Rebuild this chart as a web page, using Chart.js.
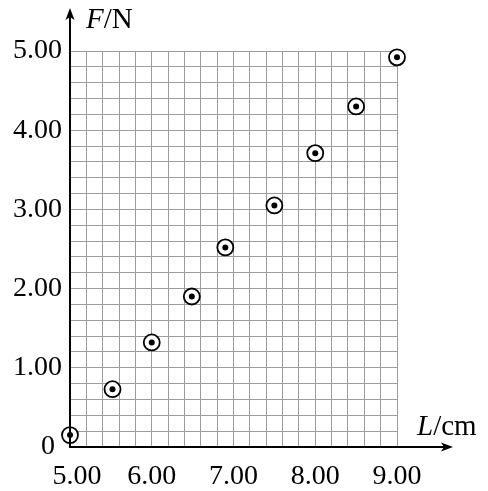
<!DOCTYPE html>
<html>
<head>
<meta charset="utf-8">
<script src="https://cdn.jsdelivr.net/npm/chart.js@4/dist/chart.umd.min.js"></script>
<style>
  html, body { margin: 0; padding: 0; background: #fff; }
  #wrap { width: 488px; height: 491px; }
</style>
</head>
<body>
<div id="wrap"><canvas id="chart" width="488" height="491"></canvas></div>
<script>
// measured points: spring length L (cm) vs force F (N)
const lengths = [5.00, 5.52, 6.00, 6.49, 6.90, 7.50, 8.00, 8.50, 9.00];
const forces = [0.15, 0.73, 1.32, 1.90, 2.52, 3.05, 3.71, 4.30, 4.92];

// tick labels (only whole units are labelled, grid every 0.2)
const xTickValues = [5, 6, 7, 8, 9];
const xTickLabels = ['  5.00', '6.00', '7.00', '8.00', '9.00'];
const yTickValues = [0, 1, 2, 3, 4, 5];
const yTickLabels = ['0 ', '1.00', '2.00', '3.00', '4.00', '5.00'];

const serif = '"Liberation Serif", "Times New Roman", serif';

function labelFor(values, labels) {
  return function(value) {
    const i = values.findIndex(v => Math.abs(v - value) < 1e-6);
    return i >= 0 ? labels[i] : '';
  };
}

// black axis lines with arrow heads + axis titles
const axisArrows = {
  id: 'axisArrows',
  afterDatasetsDraw(chart) {
    const { ctx, chartArea: a } = chart;
    ctx.save();
    ctx.strokeStyle = '#000';
    ctx.fillStyle = '#000';
    ctx.lineWidth = 2;

    // x axis
    const xTip = a.right + 56;
    ctx.beginPath();
    ctx.moveTo(a.left - 1, a.bottom);
    ctx.lineTo(xTip - 6, a.bottom);
    ctx.stroke();
    ctx.beginPath();
    ctx.moveTo(xTip, a.bottom);
    ctx.lineTo(xTip - 12, a.bottom - 4.5);
    ctx.lineTo(xTip - 9, a.bottom);
    ctx.lineTo(xTip - 12, a.bottom + 4.5);
    ctx.closePath();
    ctx.fill();

    // y axis
    const yTip = a.top - 43;
    ctx.beginPath();
    ctx.moveTo(a.left, a.bottom + 1);
    ctx.lineTo(a.left, yTip + 6);
    ctx.stroke();
    ctx.beginPath();
    ctx.moveTo(a.left, yTip);
    ctx.lineTo(a.left - 4.5, yTip + 12);
    ctx.lineTo(a.left, yTip + 9);
    ctx.lineTo(a.left + 4.5, yTip + 12);
    ctx.closePath();
    ctx.fill();

    // titles
    ctx.textBaseline = 'alphabetic';
    ctx.textAlign = 'left';
    let x = a.left + 16;
    ctx.font = 'italic 29px ' + serif;
    ctx.fillText('F', x, a.top - 23);
    x += ctx.measureText('F').width;
    ctx.font = '29px ' + serif;
    ctx.fillText('/N', x, a.top - 23);

    x = a.right + 20;
    ctx.font = 'italic 29px ' + serif;
    ctx.fillText('L', x, a.bottom - 12);
    x += ctx.measureText('L').width;
    ctx.font = '29px ' + serif;
    ctx.fillText('/cm', x, a.bottom - 12);

    ctx.restore();
  }
};

const points = lengths.map((l, i) => ({ x: l, y: forces[i] }));

new Chart(document.getElementById('chart'), {
  type: 'scatter',
  data: {
    datasets: [
      {
        // inner dot
        data: points,
        pointRadius: 3,
        pointBackgroundColor: '#000',
        pointBorderWidth: 0,
        clip: false
      },
      {
        // outer ring
        data: points,
        pointRadius: 8,
        pointBackgroundColor: '#fff',
        pointBorderColor: '#000',
        pointBorderWidth: 1.8,
        clip: false
      }
    ]
  },
  options: {
    responsive: false,
    devicePixelRatio: 1,
    animation: false,
    events: [],
    layout: { padding: { top: 51, right: 91, left: 0, bottom: 0 } },
    plugins: {
      legend: { display: false },
      tooltip: { enabled: false }
    },
    scales: {
      x: {
        type: 'linear',
        min: 5,
        max: 9,
        afterFit(scale) { scale.height = 44; },
        border: { display: false },
        grid: { color: '#9c9c9c', lineWidth: 1, drawTicks: false },
        ticks: {
          stepSize: 0.2,
          autoSkip: false,
          maxRotation: 0,
          minRotation: 0,
          padding: 13,
          color: '#000',
          font: { family: serif, size: 28 },
          callback: labelFor(xTickValues, xTickLabels)
        }
      },
      y: {
        type: 'linear',
        min: 0,
        max: 5,
        afterFit(scale) { scale.width = 70; },
        border: { display: false },
        grid: { color: '#9c9c9c', lineWidth: 1, drawTicks: false },
        ticks: {
          stepSize: 0.2,
          autoSkip: false,
          padding: 8,
          color: '#000',
          font: { family: serif, size: 28 },
          callback: labelFor(yTickValues, yTickLabels)
        }
      }
    }
  },
  plugins: [axisArrows]
});
</script>
</body>
</html>
